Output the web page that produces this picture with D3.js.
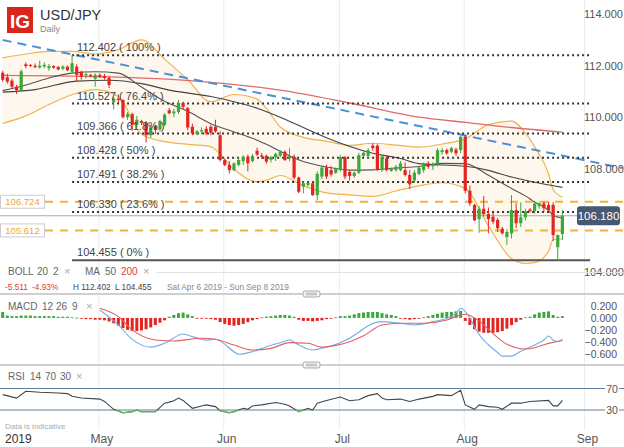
<!DOCTYPE html>
<html><head><meta charset="utf-8">
<script src="https://cdn.jsdelivr.net/npm/d3@7"></script>
<style>body{margin:0;background:#fff;} svg{display:block;font-family:"Liberation Sans",Arial,sans-serif;}</style>
</head><body><svg id="c" width="624" height="447"></svg>
<script>
// ---------- DATA ----------
const startDate = new Date(2019,3,7), endDate = new Date(2019,7,26); // daily candles Sun-Fri
const open = [111.72,111.55,111.42,111.18,111.05,112.05,112.02,111.99,111.93,111.97,
111.90,111.98,111.95,111.88,111.96,111.76,111.96,111.76,111.62,111.64,
111.49,111.64,111.60,111.52,110.58,110.72,110.66,110.00,110.12,109.70,
109.85,109.78,109.30,109.65,109.52,109.70,110.27,110.15,110.20,110.55,
110.35,109.63,109.35,109.45,109.55,109.63,109.63,109.30,108.34,108.15,
107.95,108.15,108.30,108.47,108.30,108.70,108.52,108.50,108.35,108.45,
108.50,108.66,108.40,108.47,107.66,107.31,107.37,107.44,106.98,107.70,
108.05,107.95,107.85,107.95,108.45,107.88,107.72,107.85,108.50,108.50,
108.90,108.90,107.95,108.41,107.92,107.95,107.95,107.95,107.76,107.55,
107.80,107.95,108.21,108.10,108.20,108.65,108.73,108.66,108.75,108.73,
109.24,107.15,106.60,106.05,106.45,106.25,106.14,106.02,105.68,105.35,
105.50,106.40,105.89,106.12,106.42,106.36,106.55,106.66,106.60,106.60,
104.96,105.47];
const high = [111.80,111.68,111.50,111.25,111.85,112.12,112.06,112.08,112.19,112.12,
112.06,112.02,111.98,112.02,112.00,112.402,112.05,111.80,111.72,111.68,
111.70,111.70,111.68,111.60,110.80,110.88,110.70,110.20,110.17,110.05,
109.90,109.85,109.70,109.70,109.90,110.15,110.36,110.32,110.67,110.60,
110.40,109.75,109.50,109.60,109.65,109.70,109.90,109.45,108.40,108.30,
108.25,108.45,108.52,108.55,108.58,108.82,108.62,108.55,108.50,108.62,
108.72,108.72,108.80,108.55,107.70,107.50,107.50,107.52,107.90,108.12,
108.16,108.10,108.05,108.53,108.50,107.95,107.90,108.62,108.68,108.80,
108.99,108.95,108.52,108.50,108.05,108.15,108.30,108.25,107.95,107.95,
108.10,108.25,108.30,108.25,108.80,108.80,108.78,108.85,108.82,109.28,
109.32,107.35,106.65,106.55,106.95,106.50,106.30,106.10,105.75,105.65,
106.98,106.66,106.70,106.45,106.48,106.75,106.70,106.73,106.72,106.70,
105.45,106.40];
const low = [111.38,111.30,111.10,110.90,111.00,111.90,111.95,111.90,111.88,111.90,
111.80,111.88,111.82,111.82,111.78,111.70,111.40,111.45,111.50,111.55,
111.18,111.52,111.45,111.13,110.30,110.55,109.95,109.90,109.47,109.60,
109.70,109.02,109.20,109.35,109.45,109.65,110.12,110.00,110.12,110.30,
109.50,109.30,109.30,109.35,109.30,109.30,109.40,108.28,108.10,107.82,
107.90,108.10,108.15,107.90,108.25,108.50,108.38,108.20,108.25,108.30,
108.45,108.30,108.30,107.60,107.05,107.05,107.30,106.95,106.78,107.60,
107.60,107.70,107.80,107.90,107.60,107.55,107.65,107.80,108.45,108.40,
108.70,107.92,107.88,107.90,107.88,107.88,107.90,107.70,107.21,107.45,
107.75,107.85,108.00,107.95,108.10,108.55,108.55,108.60,108.50,108.60,
107.05,106.55,105.98,105.52,106.15,105.50,105.85,105.55,105.45,105.05,
105.30,105.70,105.75,106.00,106.30,106.25,106.45,106.35,106.35,105.20,
104.455,105.24];
const close = [111.45,111.38,111.18,111.05,111.78,111.98,111.98,111.94,112.00,112.03,
111.98,111.92,111.85,111.96,111.82,112.09,111.64,111.57,111.67,111.60,
111.64,111.56,111.52,111.25,110.72,110.66,110.00,110.12,109.70,109.90,
109.78,109.30,109.60,109.52,109.85,110.10,110.15,110.22,110.55,110.40,
109.60,109.37,109.45,109.50,109.38,109.40,109.45,108.34,108.15,107.95,
108.21,108.34,108.47,108.22,108.50,108.55,108.47,108.28,108.45,108.58,
108.66,108.34,108.48,107.66,107.11,107.44,107.45,106.98,107.80,108.05,
107.70,107.78,108.00,108.45,107.70,107.72,107.85,108.53,108.62,108.72,
108.80,107.95,108.47,107.95,108.00,108.08,108.21,107.76,107.40,107.85,
108.05,108.20,108.08,108.18,108.72,108.72,108.60,108.80,108.60,109.24,
107.15,106.66,106.00,106.45,106.25,106.05,105.95,105.70,105.50,105.55,
106.40,105.89,106.12,106.35,106.36,106.65,106.66,106.47,106.40,105.43,
105.43,106.18];

// Bollinger (20,2)
const bbIdx   = [0,5,10,15,20,25,30,35,40,45,50,55,57,60,65,70,75,80,85,90,95,100,105,110,113,115,118,119,121];
const bbUpper = [112.30,112.45,112.55,112.55,112.45,112.62,113.00,112.25,111.45,110.60,110.88,110.70,110.35,109.62,109.22,109.07,108.91,108.99,108.92,108.84,108.96,109.16,109.71,109.85,109.39,108.85,107.80,107.20,106.90];
const bbMid   = [111.03,111.25,111.52,111.71,111.76,111.71,111.17,110.62,110.23,109.75,109.43,109.11,108.95,108.68,108.28,108.07,107.95,107.96,108.03,108.09,108.21,108.20,107.75,107.24,106.95,106.71,106.39,106.20,106.09];
const bbLower = [109.76,110.05,110.49,110.87,111.07,110.80,109.34,109.05,108.95,108.85,107.98,107.50,107.55,107.74,107.34,107.07,106.99,106.93,107.14,107.34,107.46,107.24,105.79,104.52,104.33,104.36,104.80,105.25,105.28];
// Moving averages
const ma50Idx = [0,7,16,23,30,36,45,50,55,60,65,70,80,86,90,100,105,110,115,121];
const ma50    = [110.97,111.07,111.40,111.43,111.30,111.05,110.80,110.60,110.35,110.00,109.60,109.20,108.60,108.40,108.20,108.10,107.94,107.68,107.48,107.28];
const ma200Idx = [0,25,45,60,75,90,100,110,121];
const ma200    = [111.62,111.55,111.35,111.05,110.55,110.00,109.80,109.60,109.42];
// Trend line (index, price)
const trendIdx = [0,134];
const trendVal = [112.99,108.03];
// Fibonacci retracement
const fibVal   = [112.402,110.527,109.366,108.428,107.491,106.330,104.455];
const fibPct   = ["100%","76.4%","61.8%","50%","38.2%","23.6%","0%"];
const fibStartIdx = 15, fibEndIdx = 127;
// Horizontal levels
const levels = [106.724,105.612];
const lastPrice = 106.180;
const priceTicks = [104,108,110,112,114];
// MACD (12,26,9)
const macdHist = [0.10,0.04,0.03,0.03,0.04,0.04,0.04,0.03,0.03,0.03,
0.03,0.03,0.02,0.02,0.02,0.01,0.005,-0.01,-0.02,-0.02,
-0.03,-0.03,-0.04,-0.06,-0.09,-0.13,-0.17,-0.20,-0.22,-0.22,
-0.21,-0.19,-0.16,-0.12,-0.08,-0.04,0.02,0.05,0.08,0.09,
0.06,0.03,-0.01,-0.01,-0.01,-0.02,-0.03,-0.07,-0.10,-0.12,
-0.13,-0.12,-0.10,-0.07,-0.04,-0.02,0.01,0.02,0.03,0.04,
0.05,0.05,0.04,0.02,-0.03,-0.05,-0.05,-0.06,-0.05,-0.04,
-0.02,-0.01,0.01,0.03,0.03,0.04,0.06,0.08,0.09,0.10,
0.10,0.10,0.08,0.06,0.05,0.03,-0.01,-0.02,-0.03,-0.02,
-0.01,0.01,0.03,0.05,0.07,0.09,0.10,0.10,0.11,0.12,
-0.05,-0.12,-0.19,-0.23,-0.25,-0.25,-0.25,-0.24,-0.22,-0.18,
-0.12,-0.07,-0.03,0.01,0.02,0.06,0.09,0.10,0.11,0.05,
0.02,0.03];
const macdIdx = [21,25,28,32,35,39,41,44,46,50,51,54,57,60,62,64,67,69,71,74,77,79,82,86,89,91,93,96,98,99,101,102,103,105,107,108,110,112,115,117,118,119,120,121];
const macdVal = [0.134,-0.118,-0.36,-0.49,-0.425,-0.269,-0.314,-0.37,-0.358,-0.566,-0.61,-0.566,-0.482,-0.415,-0.37,-0.454,-0.538,-0.51,-0.47,-0.38,-0.24,-0.13,-0.062,-0.09,-0.118,-0.10,-0.062,-0.006,0.079,0.163,0.0,-0.15,-0.28,-0.45,-0.58,-0.64,-0.64,-0.56,-0.454,-0.37,-0.303,-0.37,-0.398,-0.358];
const sigIdx = [21,25,28,33,37,43,46,50,54,58,62,66,69,72,75,78,82,86,91,96,99,100,102,103,105,107,109,111,113,115,117,119,121];
const sigVal = [0.163,0.022,-0.20,-0.37,-0.387,-0.341,-0.358,-0.454,-0.538,-0.51,-0.415,-0.425,-0.49,-0.46,-0.40,-0.30,-0.118,-0.09,-0.09,-0.034,0.05,0.062,0.0,-0.05,-0.19,-0.33,-0.44,-0.50,-0.52,-0.50,-0.45,-0.41,-0.38];
const macdTicks = [0.2,0,-0.2,-0.4,-0.6];
// RSI (14)
const rsiIdx = [0,3,5,8,12,14,15,17,21,22,24,26,28,29,30,33,35,36,37,38,39,41,43,44,46,47,49,50,52,53,54,56,59,61,62,64,66,67,68,70,73,75,77,79,81,82,83,86,88,90,93,94,97,99,100,102,103,105,107,108,110,112,114,118,119,120,121];
const rsiVal = [58.6,52.2,64.9,63,61.7,60.5,55.4,52.2,50.3,45.9,31.3,24.9,26.8,30,26.8,26.8,42.7,44.6,47.1,52.2,47.8,33.2,37.6,39.5,36.3,28.7,24.9,26.8,33.2,31.3,37.6,39.5,44,40.8,37.6,26.8,33.2,30,42.7,47.8,54.1,47.1,49,56.7,60.5,52.2,49,50.3,45.9,50.3,55.4,58.6,56.7,66.8,39.5,31.3,39.5,36.3,35.1,31.3,42.7,42.7,45.9,47.8,37.6,37.6,47.8];
const rsiLevels = [70,30];
const monthNames = ["May","Jun","Jul","Aug","Sep"];
const monthDates = [new Date(2019,4,1),new Date(2019,5,1),new Date(2019,6,1),new Date(2019,7,1),new Date(2019,8,1)];

// ---------- SCALES ----------
const svg = d3.select("#c");
const notSat = d => d.getDay() !== 6;
const dates = d3.timeDay.range(startDate, d3.timeDay.offset(endDate,1)).filter(notSat);
const idxOf = d => d3.timeDay.range(startDate, d).filter(notSat).length;
const x  = d3.scaleLinear().domain([0, dates.length-1]).range([2.7, 562.4]);
const y  = d3.scaleLinear().domain([104,114]).range([272,14]);
const yM = d3.scaleLinear().domain([-0.6,0.2]).range([353.7,306]);
const yR = d3.scaleLinear().domain([30,70]).range([410,388.5]);
const GREEN = "#3aa83a", RED = "#e3241f";
const pairs = (ix, v) => ix.map((d,i)=>[d, v[i]]);

// month gridlines
const monthIdx = monthDates.map(idxOf);
svg.append("g").selectAll("line").data(monthIdx).join("line")
  .attr("x1", d=>x(d)-1).attr("x2", d=>x(d)-1).attr("y1",0).attr("y2",430)
  .attr("stroke","#ececec").attr("stroke-width",1);

// ---------- PRICE PANEL ----------
const g = svg.append("g");
const bb = bbIdx.map((d,i)=>({i:d,u:bbUpper[i],m:bbMid[i],l:bbLower[i]}));
g.append("path").datum(bb)
  .attr("d", d3.area().curve(d3.curveMonotoneX).x(d=>x(d.i)).y0(d=>y(d.l)).y1(d=>y(d.u)))
  .attr("fill","#fef5ea").attr("opacity",0.8);
const line = (sx, sy) => d3.line().curve(d3.curveMonotoneX).x(d=>sx(d[0])).y(d=>sy(d[1]));
const drawLine = (par, data, sy, col, w, dash) => par.append("path").datum(data)
  .attr("d", line(x, sy)).attr("fill","none").attr("stroke",col).attr("stroke-width",w)
  .attr("stroke-dasharray", dash||null);
drawLine(g, pairs(bbIdx,bbUpper), y, "#f2b24e", 1.2);
drawLine(g, pairs(bbIdx,bbLower), y, "#f2b24e", 1.2);
drawLine(g, pairs(ma200Idx,ma200), y, "#e46a6a", 1.3);
drawLine(g, pairs(ma50Idx,ma50), y, "#444", 1.1);
drawLine(g, pairs(bbIdx,bbMid), y, "#555", 1.1);
g.append("path").datum(pairs(trendIdx,trendVal))
  .attr("d", d3.line().x(d=>x(d[0])).y(d=>y(d[1])))
  .attr("stroke","#4d8fd6").attr("stroke-width",2).attr("stroke-dasharray","9,6").attr("fill","none");

// fib lines
const fib = fibVal.map((v,i)=>({v, p:fibPct[i]}));
g.append("g").selectAll("line").data(fib).join("line")
  .attr("x1", x(fibStartIdx)).attr("x2", x(fibEndIdx))
  .attr("y1", d=>y(d.v)).attr("y2", d=>y(d.v))
  .attr("stroke", d=>d.p==="0%"?"#555":"#333").attr("stroke-width",2)
  .attr("stroke-dasharray", d=>d.p==="0%"?null:"2,3");
g.append("g").selectAll("line").data(levels).join("line")
  .attr("x1",45).attr("x2",624).attr("y1",d=>y(d)).attr("y2",d=>y(d))
  .attr("stroke","#f0b43c").attr("stroke-width",2).attr("stroke-dasharray","8,7");
g.append("line").attr("x1",0).attr("x2",578).attr("y1",y(lastPrice)).attr("y2",y(lastPrice))
  .attr("stroke","#aaa").attr("stroke-width",1);

// candles
const cd = dates.map((d,i)=>({i,o:open[i],h:high[i],l:low[i],c:close[i]}));
const cg = g.append("g").selectAll("g").data(cd).join("g");
cg.append("line").attr("x1",d=>x(d.i)).attr("x2",d=>x(d.i))
  .attr("y1",d=>y(d.h)).attr("y2",d=>y(d.l))
  .attr("stroke",d=>d.c>=d.o?GREEN:RED).attr("stroke-width",1);
cg.append("rect").attr("x",d=>x(d.i)-1.6).attr("width",3.2)
  .attr("y",d=>y(Math.max(d.o,d.c))).attr("height",d=>Math.max(1,Math.abs(y(d.o)-y(d.c))))
  .attr("fill",d=>d.c>=d.o?GREEN:RED);

g.append("g").selectAll("text").data(fib).join("text")
  .attr("x", x(fibStartIdx)+5).attr("y", d=>y(d.v)-4)
  .attr("font-size",11).attr("fill","#444")
  .text(d=>d3.format(".3f")(d.v)+" ( "+d.p+" )");

const lb = g.append("g").selectAll("g").data(levels).join("g");
lb.append("rect").attr("x",0.5).attr("y",d=>y(d)-6.5).attr("width",44).attr("height",13)
  .attr("fill","#fff").attr("stroke","#ccc");
lb.append("text").attr("x",22.5).attr("y",d=>y(d)+3.5).attr("text-anchor","middle")
  .attr("font-size",9.5).attr("fill","#f0a52a").text(d=>d3.format(".3f")(d));

svg.append("g").selectAll("text").data(priceTicks).join("text")
  .attr("x",584).attr("y",d=>y(d)+4).attr("font-size",11).attr("fill","#555")
  .text(d=>d3.format(".3f")(d));
svg.append("rect").attr("x",577).attr("y",y(lastPrice)-9.5).attr("width",43).attr("height",19)
  .attr("rx",3).attr("fill","#475970");
svg.append("text").attr("x",598.5).attr("y",y(lastPrice)+4).attr("text-anchor","middle")
  .attr("font-size",11.5).attr("fill","#fff").text(d3.format(".3f")(lastPrice));

// header
svg.append("rect").attr("x",7).attr("y",7).attr("width",26).attr("height",26).attr("fill","#d9261c");
svg.append("text").attr("x",20).attr("y",28).attr("text-anchor","middle").attr("font-size",19)
  .attr("font-weight","bold").attr("fill","#fff").text("IG");
svg.append("text").attr("x",40).attr("y",19.5).attr("font-size",14.5).attr("fill","#333").text("USD/JPY");
svg.append("text").attr("x",40).attr("y",31.5).attr("font-size",9).attr("fill","#888").text("Daily");

// legend rows
const txt = (xx, yy, s, col, fs) => svg.append("text").attr("x",xx).attr("y",yy)
  .attr("font-size",fs||10).attr("fill",col||"#666").text(s);
svg.append("line").attr("x1",156).attr("x2",624).attr("y1",272.5).attr("y2",272.5).attr("stroke","#e2e2e2");
txt(8,275,"BOLL"); txt(37,275,"20"); txt(53,275,"2"); txt(64,275,"×","#aaa",11);
txt(85,275,"MA"); txt(105,275,"50"); txt(121,275,"200","#e23c3c"); txt(143,275,"×","#aaa",11);
txt(5,290,"-5.511","#e53935",8.3); txt(32,290,"-4.93%","#e53935",8.3);
txt(73,290,"H 112.402","#444",8.3); txt(115,290,"L 104.455","#444",8.3);
txt(167,290,"Sat Apr 6 2019 - Sun Sep 8 2019","#888",8.3);

// separators + handles
[294,365].forEach(yy=>{
  svg.append("line").attr("x1",0).attr("x2",624).attr("y1",yy).attr("y2",yy).attr("stroke","#cfcfcf").attr("stroke-width",2);
  svg.append("rect").attr("x",303).attr("y",yy-3).attr("width",17).attr("height",6).attr("rx",2)
    .attr("fill","#f4f4f4").attr("stroke","#aaa");
  svg.append("line").attr("x1",306).attr("x2",317).attr("y1",yy-0.8).attr("y2",yy-0.8).attr("stroke","#999").attr("stroke-width",0.7);
  svg.append("line").attr("x1",306).attr("x2",317).attr("y1",yy+0.8).attr("y2",yy+0.8).attr("stroke","#999").attr("stroke-width",0.7);
});

// ---------- MACD PANEL ----------
const mg = svg.append("g");
mg.append("g").selectAll("rect").data(macdHist.map((v,i)=>({i,v}))).join("rect")
  .attr("x",d=>x(d.i)-1.5).attr("width",3)
  .attr("y",d=>Math.min(yM(d.v),yM(0))).attr("height",d=>Math.max(0.8,Math.abs(yM(d.v)-yM(0))))
  .attr("fill",d=>d.v>=0?GREEN:RED);
drawLine(mg, pairs(macdIdx,macdVal), yM, "#78aee3", 1.1);
drawLine(mg, pairs(sigIdx,sigVal), yM, "#e06060", 1.1);
mg.append("rect").attr("x",0).attr("y",297).attr("width",98).attr("height",15).attr("fill","#fff").attr("opacity",0.9);
txt(8,310,"MACD"); txt(42,310,"12"); txt(56,310,"26"); txt(72,310,"9"); txt(86,310,"×","#aaa",11);
mg.append("g").selectAll("text").data(macdTicks).join("text")
  .attr("x",617).attr("y",d=>yM(d)+4).attr("text-anchor","end").attr("font-size",10.5).attr("fill","#555")
  .text(d=>d3.format(".3f")(d));

// ---------- RSI PANEL ----------
const rg = svg.append("g");
rg.append("g").selectAll("line").data(rsiLevels).join("line")
  .attr("x1",0).attr("x2",624).attr("y1",d=>yR(d)).attr("y2",d=>yR(d))
  .attr("stroke","#5f7f9c").attr("stroke-width",1.2);
const rsiData = pairs(rsiIdx,rsiVal);
const rline = d3.line().x(d=>x(d[0])).y(d=>yR(d[1]));
rg.append("path").datum(rsiData).attr("d",rline).attr("fill","none").attr("stroke","#444").attr("stroke-width",1.1);
svg.append("clipPath").attr("id","below30").append("rect").attr("x",0).attr("y",yR(30)).attr("width",624).attr("height",30);
rg.append("path").datum(rsiData).attr("d",rline).attr("fill","none").attr("stroke","#5cb85c")
  .attr("stroke-width",1.3).attr("clip-path","url(#below30)");
txt(8,380,"RSI"); txt(30,380,"14"); txt(45,380,"70"); txt(60,380,"30"); txt(76,380,"×","#aaa",11);
const rl = rg.append("g").selectAll("g").data(rsiLevels).join("g");
rl.append("rect").attr("x",605).attr("y",d=>yR(d)-6).attr("width",14).attr("height",12).attr("fill","#fff");
rl.append("text").attr("x",612).attr("y",d=>yR(d)+4).attr("text-anchor","middle").attr("font-size",10.5)
  .attr("fill","#555").text(d=>d);
txt(5,429,"Data is indicative","#aaa",8);

// ---------- TIME AXIS ----------
txt(5,443,"2019","#333",12);
svg.append("g").selectAll("text").data(monthIdx).join("text")
  .attr("x",d=>x(d)+2).attr("y",443).attr("text-anchor","middle").attr("font-size",12).attr("fill","#555")
  .text((d,i)=>monthNames[i]);
</script></body></html>
